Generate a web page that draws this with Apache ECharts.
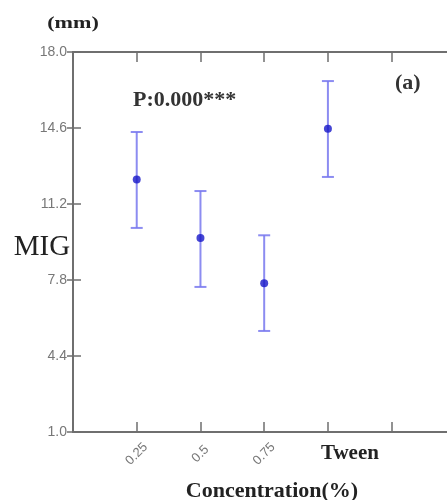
<!DOCTYPE html>
<html>
<head>
<meta charset="utf-8">
<script src="https://cdn.jsdelivr.net/npm/echarts@6/dist/echarts.min.js"></script>
<style>html,body{margin:0;padding:0;background:#fff;}#c{width:447px;height:500px;}</style>
</head>
<body>
<div id="c"></div>
<script>
const categories = ['0.25', '0.5', '0.75', 'Tween'];
const means = [12.3, 9.68, 7.66, 14.57];
const lower = [10.13, 7.49, 5.52, 12.41];
const upper = [14.42, 11.78, 9.8, 16.7];
const yTicks = [1.0, 4.4, 7.8, 11.2, 14.6, 18.0];
const xTicks = [0, 1, 2, 3, 4, 5];

const axisColor = '#6f6f6f';
const pos = categories.map((c, i) => i + 1);
const errData = pos.map((x, i) => [x, lower[i], upper[i]]);
const meanData = pos.map((x, i) => [x, means[i]]);

const chart = echarts.init(document.getElementById('c'), null, {renderer: 'canvas'});
const serif = '"Liberation Serif", "DejaVu Serif", serif';
const sans = '"Liberation Sans", Arial, sans-serif';

chart.setOption({
  animation: false,
  backgroundColor: '#ffffff',
  grid: {left: 73, top: 52, right: -2, bottom: 68, containLabel: false, outerBoundsMode: 'none'},
  xAxis: [
    {
      type: 'value', position: 'bottom', min: 0, max: 5.9, interval: 1,
      splitLine: {show: false},
      axisLine: {show: true, lineStyle: {color: axisColor, width: 2}},
      axisTick: {show: true, inside: true, length: 10, customValues: xTicks, lineStyle: {color: axisColor, width: 1.5}},
      axisLabel: {
        show: true, customValues: [1, 2, 3], rotate: 45, align: 'center', verticalAlign: 'middle', margin: 22,
        color: '#777', fontFamily: sans, fontSize: 13,
        formatter: v => categories[Math.round(v) - 1] || ''
      },
      name: 'Concentration(%)', nameLocation: 'middle', nameGap: 48,
      nameTextStyle: {fontFamily: serif, fontWeight: 'bold', fontSize: 22, color: '#222', padding: [0, 0, 0, 22]}
    },
    {
      type: 'value', position: 'bottom', min: 0, max: 5.9, interval: 1,
      splitLine: {show: false}, axisLine: {show: false}, axisTick: {show: false},
      axisLabel: {
        show: true, customValues: [4], verticalAlign: 'middle', margin: 22,
        fontFamily: serif, fontWeight: 'bold', fontSize: 21, color: '#222', padding: [0, 0, 0, 44],
        formatter: v => categories[Math.round(v) - 1] || ''
      }
    },
    {
      type: 'value', position: 'top', min: 0, max: 5.9, interval: 1,
      splitLine: {show: false},
      axisLine: {show: true, lineStyle: {color: axisColor, width: 2}},
      axisTick: {show: true, inside: true, length: 10, customValues: xTicks, lineStyle: {color: axisColor, width: 1.5}},
      axisLabel: {show: false}
    }
  ],
  yAxis: [
    {
      type: 'value', position: 'left', min: 1, max: 18,
      splitLine: {show: false},
      axisLine: {show: true, lineStyle: {color: axisColor, width: 2}},
      axisTick: {show: true, inside: true, length: 8, customValues: yTicks, lineStyle: {color: axisColor, width: 1.5}},
      axisLabel: {show: true, customValues: yTicks, margin: 6, color: '#777', fontFamily: sans, fontSize: 14,
        formatter: v => Number(v).toFixed(1)}
    },
    {
      type: 'value', position: 'right', min: 1, max: 18,
      splitLine: {show: false},
      axisLine: {show: true, lineStyle: {color: axisColor, width: 2}},
      axisTick: {show: true, inside: true, length: 6, customValues: yTicks, lineStyle: {color: axisColor, width: 1.5}},
      axisLabel: {show: false}
    }
  ],
  graphic: [
    {type: 'text', x: 42, y: 247, style: {text: 'MIG', font: '29px ' + serif, fill: '#222', align: 'center', verticalAlign: 'middle'}},
    {type: 'text', x: 73, y: 24, scaleX: 1.3, style: {text: '(mm)', font: 'bold 17px ' + serif, fill: '#222', align: 'center', verticalAlign: 'middle'}},
    {type: 'text', left: 133, top: 89, style: {text: 'P:0.000***', font: 'bold 22px ' + serif, fill: '#333'}},
    {type: 'text', left: 395, top: 72, style: {text: '(a)', font: 'bold 22px ' + serif, fill: '#333'}}
  ],
  series: [
    {
      type: 'custom', xAxisIndex: 0, yAxisIndex: 0, data: errData,
      renderItem: function (params, api) {
        const x = api.value(0);
        const pLo = api.coord([x, api.value(1)]);
        const pHi = api.coord([x, api.value(2)]);
        const hw = 6;
        const st = {stroke: '#7878ee', lineWidth: 2, opacity: 0.85};
        return {
          type: 'group',
          children: [
            {type: 'line', shape: {x1: pLo[0], y1: pLo[1], x2: pHi[0], y2: pHi[1]}, style: st},
            {type: 'line', shape: {x1: pHi[0] - hw, y1: pHi[1], x2: pHi[0] + hw, y2: pHi[1]}, style: st},
            {type: 'line', shape: {x1: pLo[0] - hw, y1: pLo[1], x2: pLo[0] + hw, y2: pLo[1]}, style: st}
          ]
        };
      },
      z: 2
    },
    {
      type: 'scatter', xAxisIndex: 0, yAxisIndex: 0, data: meanData,
      symbol: 'circle', symbolSize: 8,
      itemStyle: {color: '#1616c8'}, z: 3
    }
  ]
});
</script>
</body>
</html>
